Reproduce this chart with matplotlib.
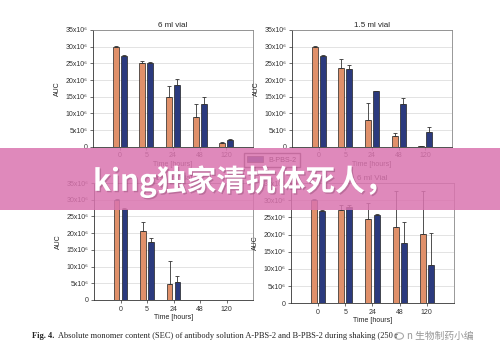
import numpy as np
import matplotlib
matplotlib.use("Agg")
import matplotlib.pyplot as plt
from matplotlib.patches import Rectangle, Patch, Circle
import matplotlib.patheffects as pe

plt.rcParams['font.family'] = ['Liberation Sans', 'DejaVu Sans', 'Noto Sans CJK SC']

times = ['0', '5', '24', '48', '120']
ytick_vals = [0, 5, 10, 15, 20, 25, 30, 35]
ytick_labels = ['0', '5x10⁶', '10x10⁶', '15x10⁶', '20x10⁶', '25x10⁶', '30x10⁶', '35x10⁶']
series_names = ['A-PBS-2', 'B-PBS-2']

# values in units of 10^6
tl_a = [30.0, 25.0, 15.0, 9.0, 1.2]
tl_a_err = [0.1, 0.7, 3.2, 3.8, 0.3]
tl_b = [27.3, 25.0, 18.5, 12.7, 2.0]
tl_b_err = [0.1, 0.4, 1.8, 2.1, 0.2]

tr_a = [30.0, 23.6, 8.1, 3.1, 0.1]
tr_a_err = [0.1, 2.6, 5.0, 1.0, 0.0]
tr_b = [27.3, 23.4, 16.7, 12.7, 4.5]
tr_b_err = [0.1, 1.0, 0.1, 2.0, 1.5]

bl_a = [30.0, 20.7, 4.7, np.nan, np.nan]
bl_a_err = [0.1, 2.7, 6.9, np.nan, np.nan]
bl_b = [27.3, 17.5, 5.4, np.nan, np.nan]
bl_b_err = [0.1, 1.0, 1.7, np.nan, np.nan]

br_a = [30.0, 27.1, 24.4, 22.1, 20.3]
br_a_err = [0.3, 1.5, 4.8, 10.5, 12.3]
br_b = [26.8, 27.9, 25.7, 17.4, 11.1]
br_b_err = [0.2, 0.7, 0.3, 6.3, 9.4]

titles = ['6 ml vial', '1.5 ml vial', '1.5 ml Vial', '6 ml Vial']

ORANGE = '#e0906a'
BLUE = '#2b3a7e'

W, H = 500, 360
fig = plt.figure(figsize=(5, 3.6), dpi=100)

def ax_rect(x0, x1, ytop, ybot):
    return [x0 / W, 1 - ybot / H, (x1 - x0) / W, (ybot - ytop) / H]

rects = [ax_rect(93, 253, 30, 146.7),
         ax_rect(292, 452, 30, 146.7),
         ax_rect(94, 253, 183, 300),
         ax_rect(291, 454, 183, 303.3)]

data = [(tl_a, tl_a_err, tl_b, tl_b_err),
        (tr_a, tr_a_err, tr_b, tr_b_err),
        (bl_a, bl_a_err, bl_b, bl_b_err),
        (br_a, br_a_err, br_b, br_b_err)]

x = np.arange(len(times))
bw = 0.22
off = 0.15
for rect, (a, ae, b, be), title in zip(rects, data, titles):
    ax = fig.add_axes(rect)
    for vals, errs, sign, col in ((a, ae, -1, ORANGE), (b, be, 1, BLUE)):
        vals = np.array(vals, dtype=float)
        errs = np.array(errs, dtype=float)
        ax.bar(x + sign * off, vals, width=bw, color=col, edgecolor='#222222',
               linewidth=0.5, zorder=3)
        ax.errorbar(x + sign * off, vals, yerr=[np.zeros_like(errs), errs],
                    fmt='none', ecolor='#333333', elinewidth=0.6, capsize=1.5,
                    capthick=0.6, zorder=4, clip_on=False)
    ax.set_xlim(-1, 5)
    ax.set_ylim(0, 35)
    ax.set_yticks(ytick_vals)
    ax.set_yticklabels(ytick_labels)
    ax.set_xticks(x)
    ax.set_xticklabels(times)
    ax.tick_params(axis='both', labelsize=5, length=2, width=0.5, pad=2,
                   colors='#333333')
    ax.grid(axis='y', color='#d8d8d8', linewidth=0.5, zorder=0)
    ax.set_axisbelow(True)
    for s in ('top', 'right'):
        ax.spines[s].set_color('#888888')
        ax.spines[s].set_linewidth(0.6)
    for s in ('left', 'bottom'):
        ax.spines[s].set_color('#333333')
        ax.spines[s].set_linewidth(0.6)
    ax.set_ylabel('AUC', fontsize=5, labelpad=3, color='#222222')
    ax.set_xlabel('Time [hours]', fontsize=5, labelpad=1, color='#222222')
    ax.set_title(title, fontsize=5.8, pad=2, color='#222222')

# legend
fig.legend(handles=[Patch(facecolor=BLUE, edgecolor='#222222', linewidth=0.5)],
           labels=[series_names[1]], loc='center',
           bbox_to_anchor=(272 / W, 1 - 160 / H), fontsize=5.2,
           fancybox=False, edgecolor='#444444', framealpha=1,
           handlelength=2.2, handleheight=0.9, borderpad=0.4)

# caption
fig.text(32 / W, 1 - 336 / H, 'Fig. 4.', family=['Liberation Serif', 'DejaVu Serif'],
         fontsize=6, fontweight='bold', va='center', color='#222222')
fig.text(58 / W, 1 - 336 / H,
         'Absolute monomer content (SEC) of antibody solution A-PBS-2 and B-PBS-2 during shaking (250 r',
         family=['Liberation Serif', 'DejaVu Serif'], fontsize=6, va='center',
         color='#222222')
# watermark
fig.add_artist(Circle((399 / W, 1 - 336 / H), 4.5 / W, transform=fig.transFigure,
                      facecolor='none', edgecolor='#aaaaaa', linewidth=0.8))
fig.text(407 / W, 1 - 336 / H, 'n 生物制药小编',
         family=['Noto Sans CJK SC', 'DejaVu Sans'], fontsize=7, va='center',
         color='#8a8a8a', alpha=0.9)

# banner
fig.add_artist(Rectangle((0, 1 - 210 / H), 1, 62 / H, transform=fig.transFigure,
                         facecolor='#da74af', edgecolor='none', alpha=0.85, zorder=10))
fig.text(93 / W, 1 - 181 / H, 'king独家清抗体死人，',
         family=['Noto Sans CJK SC', 'DejaVu Sans'], fontsize=21.4, fontweight='bold',
         color='white', va='center', ha='left', zorder=11,
         path_effects=[pe.withSimplePatchShadow(offset=(1, -1), shadow_rgbFace='#7a3a60', alpha=0.35)])

fig.savefig('out.png', dpi=100)
